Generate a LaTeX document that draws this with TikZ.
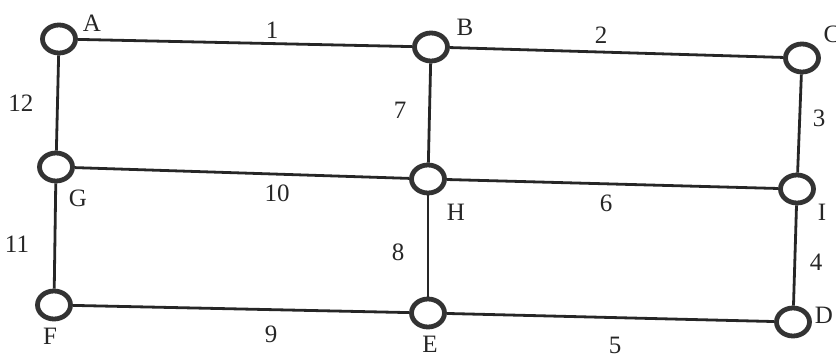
\documentclass[tikz,border=0pt]{standalone}
\usepackage{fontspec}
\setmainfont{Liberation Serif}
\usetikzlibrary{shapes.geometric}
\begin{document}
\begin{tikzpicture}[x=1pt,y=-1pt,
  vtx/.style={ellipse,draw=black!80,line width=4.8pt,minimum width=33pt,minimum height=28pt,inner sep=0pt,fill=white},
  edge/.style={line width=2.8pt,black!85},
  lbl/.style={font=\fontsize{25}{25}\selectfont,inner sep=0pt,text=black!85}]
\useasboundingbox (0,0) rectangle (836,358);
\node[vtx] (A) at (59,39) {};
\node[vtx] (B) at (431,47) {};
\node[vtx] (C) at (802,58) {};
\node[vtx] (G) at (56,167) {};
\node[vtx] (H) at (428,179) {};
\node[vtx] (I) at (797,189) {};
\node[vtx] (F) at (54,305) {};
\node[vtx] (E) at (428,313) {};
\node[vtx] (D) at (793,322) {};
\draw[edge] (A) -- (B);
\draw[edge] (B) -- (C);
\draw[edge] (G) -- (H);
\draw[edge] (H) -- (I);
\draw[edge] (F) -- (E);
\draw[edge] (E) -- (D);
\draw[edge] (A) -- (G);
\draw[edge] (G) -- (F);
\draw[edge] (B) -- (H);
\draw[edge] (H) -- (E);
\draw[edge] (C) -- (I);
\draw[edge] (I) -- (D);
\node[lbl] (lA) at (92,23) {A};
\node[lbl] (lB) at (465,27) {B};
\node[lbl] (lC) at (832,34) {C};
\node[lbl] (lG) at (78,198) {G};
\node[lbl] (lH) at (456,212) {H};
\node[lbl] (lI) at (822,212) {I};
\node[lbl] (lF) at (50,336) {F};
\node[lbl] (lE) at (430,344) {E};
\node[lbl] (lD) at (824,315) {D};
\node[lbl] (e1) at (272,30) {1};
\node[lbl] (e2) at (601,35) {2};
\node[lbl] (e3) at (819,118) {3};
\node[lbl] (e4) at (816,262) {4};
\node[lbl] (e5) at (615,345) {5};
\node[lbl] (e6) at (606,203) {6};
\node[lbl] (e7) at (400,110) {7};
\node[lbl] (e8) at (398,252) {8};
\node[lbl] (e9) at (271,334) {9};
\node[lbl] (e10) at (277,193) {10};
\node[lbl] (e11) at (17,244) {11};
\node[lbl] (e12) at (21,103) {12};
\end{tikzpicture}
\end{document}
